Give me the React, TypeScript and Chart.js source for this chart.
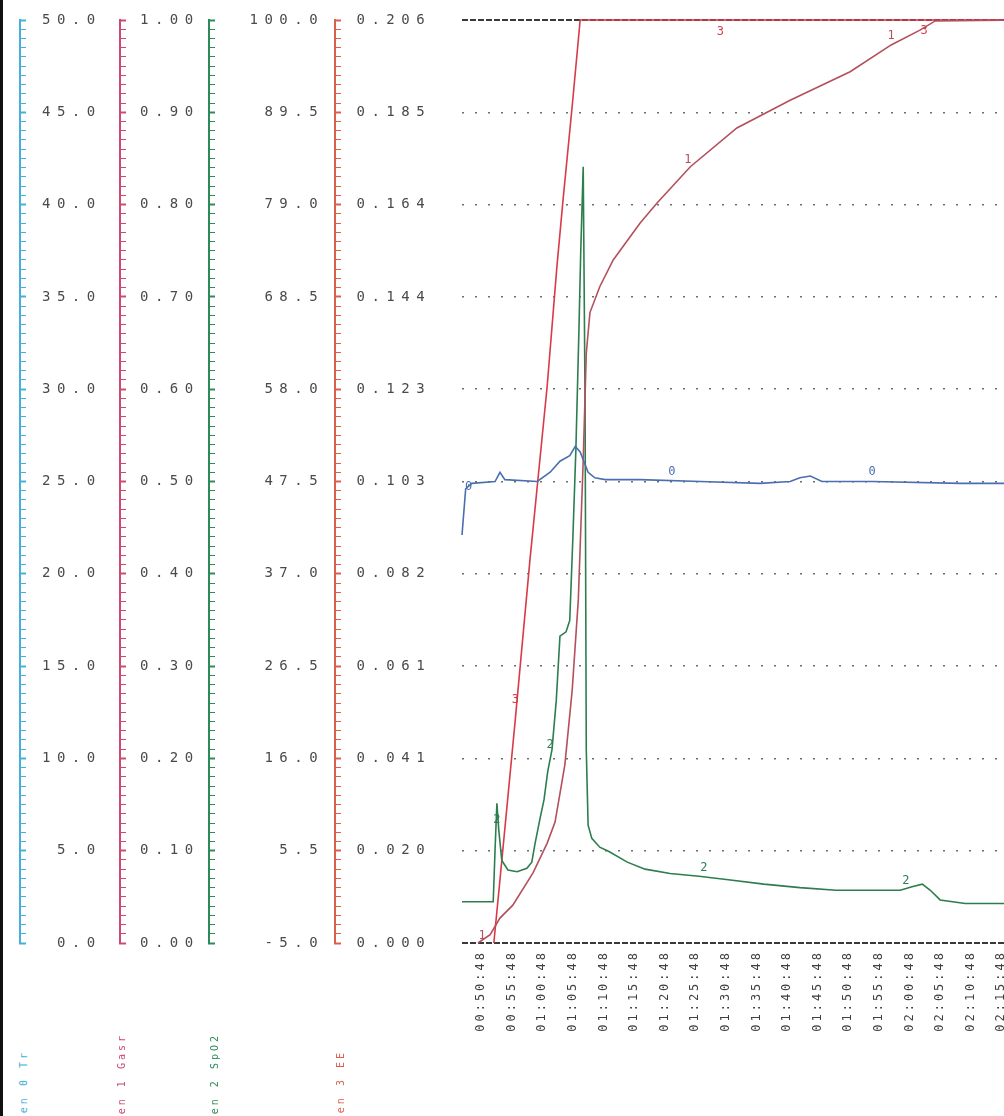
import React, { useEffect, useRef } from 'react';
import { Chart, registerables } from 'chart.js';

Chart.register(...registerables);

// ---- tick labels ----
const xTickValues = [0, 5, 10, 15, 20, 25, 30, 35, 40, 45, 50, 55, 60, 65, 70, 75, 80, 85];
const xTickLabels = [
  '00:50:48', '00:55:48', '01:00:48', '01:05:48', '01:10:48', '01:15:48',
  '01:20:48', '01:25:48', '01:30:48', '01:35:48', '01:40:48', '01:45:48',
  '01:50:48', '01:55:48', '02:00:48', '02:05:48', '02:10:48', '02:15:48',
];
const pen0TickLabels = ['0.0', '5.0', '10.0', '15.0', '20.0', '25.0', '30.0', '35.0', '40.0', '45.0', '50.0'];
const pen1TickLabels = ['0.00', '0.10', '0.20', '0.30', '0.40', '0.50', '0.60', '0.70', '0.80', '0.90', '1.00'];
const pen2TickLabels = ['-5.0', '5.5', '16.0', '26.5', '37.0', '47.5', '58.0', '68.5', '79.0', '89.5', '100.0'];
const pen3TickLabels = ['0.000', '0.020', '0.041', '0.061', '0.082', '0.103', '0.123', '0.144', '0.164', '0.185', '0.206'];
const penTitles = ['Pen 0 Tr', 'Pen 1 Gasr', 'Pen 2 SpO2', 'Pen 3 EE'];

// ---- series (x = minutes from first tick) ----
const pen0Time = [-3.1, -2.5, -1.5, 2.3, 3.1, 3.9, 9.2, 11.3, 12.9, 14.5, 15.4, 16.2, 17.5, 18.6, 20.3, 26.0, 35.8, 45.6, 50.5, 52.1, 53.8, 55.7, 63.9, 78.3, 88.7];
const pen0Values = [22.1, 24.6, 24.9, 25.0, 25.5, 25.1, 25.0, 25.5, 26.1, 26.4, 26.9, 26.6, 25.5, 25.2, 25.1, 25.1, 25.0, 24.9, 25.0, 25.2, 25.3, 25.0, 25.0, 24.9, 24.9];

const pen1Time = [-0.5, 1.5, 3.1, 5.2, 8.5, 10.8, 12.1, 13.7, 14.9, 15.9, 16.7, 17.2, 17.8, 19.4, 21.6, 26.0, 28.8, 34.2, 41.8, 50.5, 60.3, 67.0, 71.7, 74.2, 88.7];
const pen1Values = [0.0, 0.009, 0.027, 0.041, 0.076, 0.108, 0.131, 0.193, 0.274, 0.372, 0.523, 0.639, 0.683, 0.711, 0.74, 0.78, 0.802, 0.841, 0.883, 0.913, 0.944, 0.973, 0.989, 0.999, 1.0];

const pen2Time = [-3.1, 2.0, 2.3, 2.6, 2.9, 3.4, 4.4, 5.9, 7.5, 8.3, 8.8, 9.6, 10.3, 10.9, 11.6, 12.3, 12.9, 13.9, 14.5, 15.0, 15.5, 16.0, 16.3, 16.7, 17.0, 17.2, 17.5, 18.1, 19.4, 20.9, 23.9, 26.8, 30.9, 35.6, 40.4, 46.2, 52.1, 58.0, 68.5, 70.4, 72.1, 73.4, 75.0, 79.1, 88.7];
const pen2Values = [-0.3, -0.3, 5.6, 10.9, 7.9, 4.4, 3.3, 3.1, 3.5, 4.2, 6.2, 9.0, 11.3, 14.5, 17.0, 22.6, 29.9, 30.4, 31.7, 40.9, 51.1, 64.7, 73.8, 83.3, 56.8, 17.0, 8.4, 6.9, 5.9, 5.4, 4.2, 3.4, 2.9, 2.6, 2.2, 1.7, 1.3, 1.0, 1.0, 1.4, 1.7, 1.0, -0.1, -0.5, -0.5];

const pen3Time = [2.1, 3.1, 5.6, 8.0, 10.8, 12.4, 13.4, 15.0, 16.2, 88.7];
const pen3Values = [0.0, 0.0141, 0.0498, 0.0855, 0.1241, 0.1509, 0.1658, 0.1882, 0.206, 0.206];

// pen number markers written along the traces
const markerPens = [0, 0, 0, 1, 1, 1, 2, 2, 2, 2, 3, 3, 3];
const markerTimes = [-2.0, 31.2, 63.9, 0.2, 33.8, 67.0, 2.6, 11.3, 36.4, 69.4, 5.6, 39.1, 72.4];
const markerValues = [24.7, 25.5, 25.5, 0.008, 0.848, 0.983, 9.0, 17.5, 3.5, 2.05, 0.0542, 0.2033, 0.2035];

const gridLevels = [0, 1, 2, 3, 4, 5, 6, 7, 8, 9, 10];

const axisIds = ['y0', 'y1', 'y2', 'y3'];
const axisColors = ['#45b0d8', '#cc4a72', '#2e8b57', '#d8604c'];
const lineColors = ['#4a6fb0', '#b4505c', '#2e7d4f', '#d83a48'];
const MONO = '"DejaVu Sans Mono", monospace';

function patchSpacing(scale: any, spacing: string) {
  if (scale.__lsPatched) return;
  scale.__lsPatched = true;
  const orig = scale.draw;
  scale.draw = function (area: any) {
    const ctx = this.ctx as any;
    const prev = ctx.letterSpacing;
    ctx.letterSpacing = spacing;
    orig.call(this, area);
    ctx.letterSpacing = prev || '0px';
  };
}

function penAxis(weight: number, min: number, max: number, labels: string[], color: string, width: number, padding: number) {
  return {
    type: 'linear',
    position: 'left',
    weight,
    min,
    max,
    afterBuildTicks: (s: any) => {
      s.ticks = Array.from({ length: 101 }, (_, i) => ({ value: min + ((max - min) * i) / 100 }));
    },
    afterFit: (s: any) => {
      s.width = width;
      s.paddingTop = 0;
      s.paddingBottom = 0;
      patchSpacing(s, '6.5px');
    },
    grid: {
      display: true,
      drawOnChartArea: false,
      drawTicks: true,
      tickLength: -6,
      color: 'transparent',
      tickColor: color,
      tickWidth: (c: any) => (c.index % 10 === 0 ? 2 : 1),
    },
    border: { display: true, color, width: 2 },
    ticks: {
      mirror: true,
      crossAlign: 'far',
      padding,
      autoSkip: false,
      color: '#4a4a4a',
      font: { family: MONO, size: 14 },
      callback: (_v: any, i: number) => (i % 10 === 0 ? labels[i / 10] : ''),
    },
  };
}

const markerPlugin = {
  id: 'penMarkers',
  afterDatasetsDraw(chart: any) {
    const ctx = chart.ctx;
    ctx.save();
    ctx.font = `12px ${MONO}`;
    ctx.textAlign = 'center';
    ctx.textBaseline = 'middle';
    markerPens.forEach((p, i) => {
      const x = chart.scales.x.getPixelForValue(markerTimes[i]);
      const y = chart.scales[axisIds[p]].getPixelForValue(markerValues[i]);
      ctx.fillStyle = lineColors[p];
      ctx.fillText(String(p), x, y);
    });
    ctx.restore();
  },
};

export default function App() {
  const canvasRef = useRef<HTMLCanvasElement | null>(null);

  useEffect(() => {
    if (!canvasRef.current) return;
    const series = [
      [pen0Time, pen0Values],
      [pen1Time, pen1Values],
      [pen2Time, pen2Values],
      [pen3Time, pen3Values],
    ];
    const chart = new Chart(canvasRef.current, {
      type: 'line',
      data: {
        datasets: series.map(([t, v], p) => ({
          label: penTitles[p],
          data: t.map((tt, i) => ({ x: tt, y: v[i] })),
          yAxisID: axisIds[p],
          borderColor: lineColors[p],
          backgroundColor: lineColors[p],
          borderWidth: 1.6,
          pointRadius: 0,
          tension: 0,
          clip: false as any,
        })),
      },
      options: {
        animation: false,
        responsive: false,
        events: [],
        layout: { padding: { top: 20, left: 0, right: 0, bottom: 0 } },
        plugins: { legend: { display: false }, tooltip: { enabled: false } },
        scales: {
          x: {
            type: 'linear',
            position: 'bottom',
            min: -3.1,
            max: 88.7,
            afterBuildTicks: (s: any) => {
              s.ticks = xTickValues.map((v) => ({ value: v }));
            },
            afterFit: (s: any) => {
              s.height = 100;
              patchSpacing(s, '3px');
            },
            grid: { display: false, drawTicks: false },
            border: { display: false },
            ticks: {
              autoSkip: false,
              minRotation: 90,
              maxRotation: 90,
              padding: 7,
              color: '#404040',
              font: { family: MONO, size: 12 },
              callback: (_v: any, i: number) => xTickLabels[i],
            },
          },
          y0: penAxis(5, 0, 50, pen0TickLabels, axisColors[0], 20, 48),
          y1: penAxis(4, 0, 1, pen1TickLabels, axisColors[1], 100, 46),
          y2: penAxis(3, -5, 100, pen2TickLabels, axisColors[2], 89, 73),
          y3: penAxis(2, 0, 0.206, pen3TickLabels, axisColors[3], 126, 54),
          yg: {
            type: 'linear',
            position: 'left',
            weight: 1,
            min: 0,
            max: 10,
            afterBuildTicks: (s: any) => {
              s.ticks = gridLevels.map((v) => ({ value: v }));
            },
            afterFit: (s: any) => {
              s.width = 127;
              s.paddingTop = 0;
              s.paddingBottom = 0;
            },
            ticks: { display: false },
            grid: {
              display: true,
              drawOnChartArea: true,
              drawTicks: false,
              color: (c: any) => (c.index === 0 || c.index === 10 ? '#3a3a3a' : '#6e6e6e'),
              lineWidth: (c: any) => (c.index === 0 || c.index === 10 ? 2 : 1.5),
            },
            border: {
              display: false,
              dash: (c: any) => (c.index === 0 || c.index === 10 ? [6, 2] : [2, 11]),
            },
          },
        } as any,
      },
      plugins: [markerPlugin],
    } as any);
    return () => chart.destroy();
  }, []);

  const titleLeft = [18, 116, 209, 335];
  const titleTop = [1050, 1033, 1033, 1050];

  return (
    <div
      style={{
        position: 'absolute',
        left: 0,
        top: 0,
        width: 1004,
        height: 1116,
        overflow: 'hidden',
        background: '#fff',
      }}
    >
      <canvas ref={canvasRef} width={1024} height={1043} style={{ position: 'absolute', left: 0, top: 0, width: 1024, height: 1043 }} />
      <div style={{ position: 'absolute', left: 0, top: 0, width: 3, height: 1116, background: '#111' }} />
      {penTitles.map((t, i) => (
        <div
          key={t}
          style={{
            position: 'absolute',
            left: titleLeft[i],
            top: titleTop[i],
            writingMode: 'vertical-rl',
            transform: 'rotate(180deg)',
            fontFamily: MONO,
            fontSize: 10,
            letterSpacing: 3,
            color: axisColors[i],
            whiteSpace: 'nowrap',
            lineHeight: '12px',
          }}
        >
          {t}
        </div>
      ))}
    </div>
  );
}
